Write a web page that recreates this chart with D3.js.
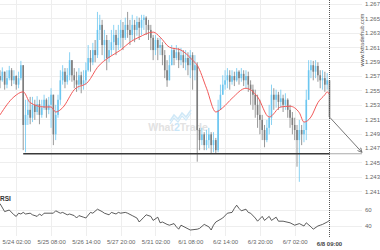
<!DOCTYPE html>
<html><head><meta charset="utf-8">
<script src="https://cdn.jsdelivr.net/npm/d3@7"></script>
<style>html,body{margin:0;padding:0;background:#fff;}svg{display:block;}</style>
</head><body><svg id="c" width="380" height="250"></svg>
<script>
const firstOpen = 1.2570;
const closes = [1.2564,1.2576,1.2558,1.2567,1.2578,1.2564,1.2570,1.2558,1.2567,1.2585,
1.2502,1.2516,1.2523,1.2512,1.2530,1.2520,1.2531,1.2516,1.2526,1.2537,
1.2523,1.2530,1.2544,1.2489,1.2516,1.2537,1.2564,1.2576,1.2562,1.2571,
1.2592,1.2571,1.2564,1.2558,1.2571,1.2558,1.2564,1.2578,1.2595,1.2589,
1.2606,1.2599,1.2634,1.2641,1.2613,1.2620,1.2595,1.2606,1.2617,1.2627,
1.2613,1.2623,1.2634,1.2623,1.2641,1.2634,1.2627,1.2641,1.2634,1.2645,
1.2637,1.2648,1.2651,1.2641,1.2634,1.2623,1.2606,1.2620,1.2609,1.2613,
1.2599,1.2578,1.2564,1.2585,1.2606,1.2595,1.2603,1.2592,1.2599,1.2589,
1.2595,1.2585,1.2599,1.2578,1.2585,1.2495,1.2481,1.2489,1.2474,1.2481,
1.2489,1.2474,1.2481,1.2467,1.2523,1.2544,1.2558,1.2564,1.2571,1.2562,
1.2570,1.2564,1.2576,1.2567,1.2573,1.2564,1.2570,1.2558,1.2551,1.2544,
1.2530,1.2516,1.2509,1.2495,1.2481,1.2498,1.2512,1.2544,1.2537,1.2544,
1.2534,1.2539,1.2530,1.2537,1.2523,1.2512,1.2502,1.2495,1.2481,1.2495,
1.2489,1.2495,1.2537,1.2578,1.2585,1.2576,1.2584,1.2571,1.2564,1.2567,
1.2558,1.2564,1.2513];
const highs = [1.2578,1.2582,1.2576,1.2578,1.2584,1.2581,1.2578,1.2571,1.2576,1.2591,
1.2578,1.2537,1.2537,1.2541,1.2541,1.2537,1.2542,1.2537,1.2537,1.2544,
1.2539,1.2541,1.2553,1.2544,1.2530,1.2544,1.2578,1.2585,1.2581,1.2581,
1.2603,1.2589,1.2581,1.2576,1.2581,1.2576,1.2578,1.2589,1.2613,1.2606,
1.2616,1.2620,1.2659,1.2655,1.2648,1.2634,1.2627,1.2620,1.2634,1.2641,
1.2634,1.2641,1.2648,1.2645,1.2651,1.2659,1.2648,1.2655,1.2648,1.2653,
1.2651,1.2655,1.2655,1.2653,1.2648,1.2641,1.2627,1.2627,1.2623,1.2623,
1.2617,1.2606,1.2592,1.2599,1.2613,1.2609,1.2613,1.2609,1.2609,1.2606,
1.2606,1.2603,1.2606,1.2603,1.2599,1.2589,1.2498,1.2498,1.2492,1.2495,
1.2498,1.2492,1.2492,1.2484,1.2537,1.2558,1.2571,1.2578,1.2581,1.2578,
1.2578,1.2576,1.2581,1.2578,1.2581,1.2578,1.2578,1.2576,1.2564,1.2558,
1.2551,1.2544,1.2537,1.2516,1.2502,1.2509,1.2530,1.2558,1.2553,1.2551,
1.2548,1.2551,1.2544,1.2546,1.2539,1.2530,1.2520,1.2512,1.2502,1.2509,
1.2502,1.2506,1.2551,1.2592,1.2592,1.2591,1.2592,1.2589,1.2578,1.2578,
1.2576,1.2574,1.2564];
const lows = [1.2553,1.2562,1.2551,1.2553,1.2564,1.2556,1.2559,1.2551,1.2553,1.2564,
1.2467,1.2464,1.2502,1.2503,1.2506,1.2509,1.2516,1.2503,1.2512,1.2523,
1.2512,1.2517,1.2498,1.2474,1.2481,1.2512,1.2530,1.2558,1.2553,1.2558,
1.2564,1.2562,1.2553,1.2548,1.2551,1.2546,1.2551,1.2558,1.2576,1.2576,
1.2585,1.2589,1.2595,1.2620,1.2599,1.2592,1.2578,1.2589,1.2599,1.2606,
1.2599,1.2606,1.2609,1.2606,1.2620,1.2623,1.2613,1.2620,1.2617,1.2626,
1.2620,1.2627,1.2634,1.2627,1.2620,1.2606,1.2592,1.2599,1.2592,1.2599,
1.2585,1.2567,1.2555,1.2567,1.2585,1.2585,1.2592,1.2581,1.2585,1.2581,
1.2578,1.2571,1.2567,1.2551,1.2564,1.2451,1.2467,1.2474,1.2467,1.2467,
1.2470,1.2463,1.2464,1.2462,1.2464,1.2523,1.2544,1.2551,1.2553,1.2551,
1.2558,1.2556,1.2562,1.2558,1.2562,1.2556,1.2553,1.2548,1.2530,1.2523,
1.2512,1.2498,1.2489,1.2481,1.2471,1.2478,1.2489,1.2502,1.2523,1.2526,
1.2523,1.2526,1.2520,1.2523,1.2512,1.2498,1.2489,1.2481,1.2444,1.2423,
1.2474,1.2478,1.2481,1.2537,1.2567,1.2564,1.2567,1.2562,1.2553,1.2551,
1.2548,1.2551,1.2512];

const maIdx = [0,6,10,13,19,22,24,27,32,38,42,47,52,56,60,66,69,73,78,83,85,89,93,96,100,106,111,116,121,125,129,131,134,137,140,141,142];
const maVals = [1.2516,1.2541,1.2548,1.2533,1.2527,1.2527,1.2520,1.2526,1.2551,1.2562,1.2582,1.2596,1.2606,1.2617,1.2624,1.2631,1.2624,1.2610,1.2606,1.2592,1.2585,1.2553,1.2520,1.2526,1.2539,1.2553,1.2541,1.2513,1.2527,1.2528,1.2519,1.2506,1.2513,1.2533,1.2544,1.2548,1.2544];

const rsiIdx = [0,2,4,6,7,8,9,10,11,13,14,16,17,18,19,23,24,26,27,29,30,32,33,34,36,37,39,40,42,44,45,47,48,50,51,52,54,55,57,59,60,62,63,65,66,68,69,70,72,73,75,76,77,78,82,85,86,88,90,91,92,93,96,98,100,101,102,103,104,106,107,108,110,111,113,114,116,117,119,120,122,125,127,129,131,132,134,135,137,138,139,141,142];
const rsiVals = [68,58,60,54,52,56,55,57,55,56,54,52,55,53,56,56,59,56,57,54,55,53,50,53,51,50,57,56,61,58,56,54,57,55,57,56,57,56,53,50,45,51,54,52,47,51,44,45,42,41,43,39,36,41,35,36,37,42,39,35,41,45,50,56,57,62,66,62,59,61,57,56,50,46,52,47,52,47,51,46,46,44,41,43,40,44,39,36,40,41,42,45,47];

const priceTicks = [1.241,1.243,1.245,1.247,1.249,1.251,1.253,1.255,1.257,1.259,1.261,1.263,1.265,1.267];
const rsiTicks = [40,60];
const timeTickIdx = [7,22,37,52,67,82,97,112,127];
const timeTickLabels = ["5/24 02:00","5/25 08:00","5/26 14:00","5/27 20:00","5/31 02:00","6/1 08:00","6/2 14:00","6/3 20:00","6/7 02:00"];
const lastIdx = 142, lastLabel = "6/8 09:00";
const levelPrice = 1.2462, levelStartIdx = 10;
const targetIdx = 156, targetPrice = 1.2464;

const svg = d3.select("#c");
svg.append("rect").attr("width",380).attr("height",250).attr("fill","#fff");
const x = d3.scaleLinear().domain([0,142]).range([0,329.5]);
const y = d3.scaleLinear().domain([1.241,1.267]).range([191.2,4]);
const yr = d3.scaleLinear().domain([40,60]).range([226,210]);
const FONT = "'Liberation Sans', Arial, sans-serif";

// grid
const g = svg.append("g");
g.selectAll(".hg").data(priceTicks).join("line")
  .attr("x1",0).attr("x2",362).attr("y1",d=>Math.round(y(d))+0.5).attr("y2",d=>Math.round(y(d))+0.5)
  .attr("stroke","#eeeeee").attr("stroke-width",1);
g.selectAll(".rg").data(rsiTicks).join("line")
  .attr("x1",0).attr("x2",362).attr("y1",d=>Math.round(yr(d))+0.5).attr("y2",d=>Math.round(yr(d))+0.5)
  .attr("stroke","#eeeeee").attr("stroke-width",1);
g.selectAll(".vg").data(timeTickIdx).join("line")
  .attr("x1",d=>Math.round(x(d))+0.5).attr("x2",d=>Math.round(x(d))+0.5).attr("y1",0).attr("y2",236)
  .attr("stroke","#eeeeee").attr("stroke-width",1);

// watermark
const wm = svg.append("g");
const logo = [[170,121],[174,115],[178,119],[182,113],[186,117],[191,110]];
wm.append("path").attr("d",d3.line()(logo)).attr("fill","none").attr("stroke","#cfe8f7").attr("stroke-width",1.6);
wm.append("path").attr("d",d3.line()(logo.map(p=>[p[0],p[1]+3]))).attr("fill","none").attr("stroke","#cfe8f7").attr("stroke-width",1.2);
const wt = wm.append("text").attr("x",178).attr("y",131).attr("text-anchor","middle")
  .attr("font-family",FONT).attr("font-size",10.5).attr("font-weight","bold").attr("fill","#e2e2e2");
wt.append("tspan").text("What");
wt.append("tspan").attr("fill","#c8e6f8").text("2");
wt.append("tspan").text("Trade");

// candles
const data = closes.map((c,i)=>({i, o: i===0?firstOpen:closes[i-1], c, h: highs[i], l: lows[i]}));
const cg = svg.append("g");
cg.selectAll(".w").data(data).join("line")
  .attr("x1",d=>x(d.i)).attr("x2",d=>x(d.i))
  .attr("y1",d=>y(Math.max(d.h,d.o,d.c))).attr("y2",d=>y(Math.min(d.l,d.o,d.c)))
  .attr("stroke",d=>d.c>=d.o?"#6cc6f0":"#7d7d7d").attr("stroke-width",0.8);
cg.selectAll(".b").data(data).join("rect")
  .attr("x",d=>x(d.i)-0.8).attr("width",1.6)
  .attr("y",d=>y(Math.max(d.o,d.c))).attr("height",d=>Math.max(0.8,Math.abs(y(d.o)-y(d.c))))
  .attr("fill",d=>d.c>=d.o?"#6cc6f0":"#7d7d7d");

// MA
svg.append("path").datum(maIdx.map((d,k)=>[d,maVals[k]]))
  .attr("d",d3.line().x(d=>x(d[0])).y(d=>y(d[1])).curve(d3.curveMonotoneX))
  .attr("fill","none").attr("stroke","#f25a5a").attr("stroke-width",1);

// level line
svg.append("line").attr("x1",x(levelStartIdx)).attr("x2",x(lastIdx)).attr("y1",y(levelPrice)).attr("y2",y(levelPrice))
  .attr("stroke","#3a3a3a").attr("stroke-width",1.5);
svg.append("line").attr("x1",x(lastIdx)).attr("x2",x(targetIdx)).attr("y1",y(levelPrice)).attr("y2",y(levelPrice))
  .attr("stroke","#555").attr("stroke-width",1).attr("stroke-dasharray","1,1");

// vertical now line
svg.append("line").attr("x1",x(lastIdx)).attr("x2",x(lastIdx)).attr("y1",0).attr("y2",238)
  .attr("stroke","#555").attr("stroke-width",1).attr("stroke-dasharray","1,1");

// arrow
svg.append("defs").append("marker").attr("id","ah").attr("viewBox","0 0 10 10").attr("refX",9).attr("refY",5)
  .attr("markerWidth",6).attr("markerHeight",6).attr("orient","auto")
  .append("path").attr("d","M1,1 L9,5 L1,9").attr("fill","none").attr("stroke","#666").attr("stroke-width",1.5);
svg.append("line").attr("x1",x(lastIdx)).attr("y1",y(closes[lastIdx])).attr("x2",x(targetIdx)).attr("y2",y(targetPrice))
  .attr("stroke","#666").attr("stroke-width",0.9).attr("marker-end","url(#ah)");

// RSI
svg.append("path").datum(rsiIdx.map((d,k)=>[d,rsiVals[k]]))
  .attr("d",d3.line().x(d=>x(d[0])).y(d=>yr(d[1])))
  .attr("fill","none").attr("stroke","#333").attr("stroke-width",0.8);
svg.append("text").attr("x",0).attr("y",201).attr("font-family",FONT).attr("font-size",6.5).attr("font-weight","bold").attr("fill","#333").text("RSI");

// axes
const ax = svg.append("g").attr("transform","translate(363,0)")
  .call(d3.axisRight(y).tickValues(priceTicks).tickFormat(d3.format(".3f")).tickSize(0).tickPadding(2));
const axr = svg.append("g").attr("transform","translate(363,0)")
  .call(d3.axisRight(yr).tickValues(rsiTicks).tickSize(0).tickPadding(2));
const axx = svg.append("g").attr("transform","translate(0,238)")
  .call(d3.axisBottom(x).tickValues(timeTickIdx).tickFormat((d,k)=>timeTickLabels[k]).tickSize(0).tickPadding(2));
[ax,axr,axx].forEach(a=>{a.select(".domain").remove();a.selectAll("text").attr("font-family",FONT).attr("font-size",6).attr("fill","#666");});
svg.append("text").attr("x",x(lastIdx)).attr("y",245.5).attr("text-anchor","middle").attr("font-family",FONT)
  .attr("font-size",6).attr("font-weight","bold").attr("fill","#444").text(lastLabel);

// site watermark
svg.append("text").attr("transform","translate(364,40) rotate(-90)").attr("text-anchor","middle")
  .attr("font-family",FONT).attr("font-size",5.5).attr("fill","#555").text("www.fxtraderhub.com");
</script></body></html>
